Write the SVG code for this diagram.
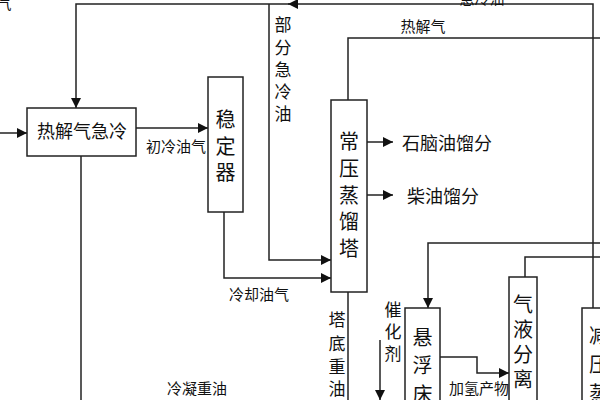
<svg xmlns="http://www.w3.org/2000/svg" width="600" height="400" viewBox="0 0 600 400">
<style>
.box{fill:#fff;stroke:#222;stroke-width:1.5}
.ln{fill:none;stroke:#222;stroke-width:1.5}
.t{font-family:"Noto Sans CJK SC","Noto Sans",sans-serif;fill:#111;text-anchor:middle;dominant-baseline:central}
.lab{font-size:15px}
.big{font-size:20px}
.mid{font-size:18px}
.vt{font-size:17px}
</style>
<defs>
<marker id="ah" viewBox="0 0 10 10" refX="10" refY="5" markerWidth="10" markerHeight="10" markerUnits="userSpaceOnUse" orient="auto">
<path d="M0,0 L10,5 L0,10 z" fill="#111"/>
</marker>
</defs>
<rect width="600" height="400" fill="#fff"/>
<g id="connectors">
<path class="ln" d="M0,133 H27" marker-end="url(#ah)"/>
<path class="ln" d="M593,308 V4 H288" marker-end="url(#ah)"/>
<path class="ln" d="M290,4 H76 V108" marker-end="url(#ah)"/>
<path class="ln" d="M136,128 H208" marker-end="url(#ah)"/>
<path class="ln" d="M224,212 V278 H331" marker-end="url(#ah)"/>
<path class="ln" d="M269,4 V260 H331" marker-end="url(#ah)"/>
<path class="ln" d="M348,100 V38 H600"/>
<path class="ln" d="M367,142 H393" marker-end="url(#ah)"/>
<path class="ln" d="M367,195 H393" marker-end="url(#ah)"/>
<path class="ln" d="M348,292 V400"/>
<path class="ln" d="M81,156 V400"/>
<path class="ln" d="M600,243 H428 V308" marker-end="url(#ah)"/>
<path class="ln" d="M600,257 H525 V277"/>
<path class="ln" d="M440,357 H477 V373 H509" marker-end="url(#ah)"/>
<path class="ln" d="M380,340 V400" marker-end="url(#ah)"/>
</g>
<g id="n_quench">
<rect class="box" x="27" y="108" width="109" height="48"/>
<text class="t mid" x="82" y="130">热解气急冷</text>
</g>
<g id="n_stab">
<rect class="box" x="208" y="77" width="35" height="135"/>
<text class="t big" x="225.5" y="118">稳</text>
<text class="t big" x="225.5" y="145">定</text>
<text class="t big" x="225.5" y="171">器</text>
</g>
<g id="n_atm">
<rect class="box" x="331" y="100" width="36" height="192"/>
<text class="t big" x="349" y="140">常</text>
<text class="t big" x="349" y="167">压</text>
<text class="t big" x="349" y="194">蒸</text>
<text class="t big" x="349" y="220">馏</text>
<text class="t big" x="349" y="247">塔</text>
</g>
<g id="n_slurry">
<rect class="box" x="405" y="308" width="35" height="100"/>
<text class="t big" x="422.5" y="336">悬</text>
<text class="t big" x="422.5" y="364">浮</text>
<text class="t big" x="422.5" y="393">床</text>
</g>
<g id="n_gl">
<rect class="box" x="509" y="277" width="28" height="130"/>
<text class="t big" x="523" y="303">气</text>
<text class="t big" x="523" y="328">液</text>
<text class="t big" x="523" y="353">分</text>
<text class="t big" x="523" y="378">离</text>
</g>
<g id="n_vac">
<rect class="box" x="582" y="308" width="40" height="100"/>
<text class="t big" x="599" y="334">减</text>
<text class="t big" x="599" y="363">压</text>
<text class="t big" x="599" y="392">蒸</text>
</g>
<g id="labels">
<text class="t lab" x="4" y="2">气</text>
<text class="t lab" x="482" y="-3">急冷油</text>
<text class="t lab" x="423" y="25">热解气</text>
<text class="t lab" x="176" y="145">初冷油气</text>
<text class="t lab" x="259" y="293">冷却油气</text>
<text class="t vt" x="283" y="23">部</text>
<text class="t vt" x="283" y="46">分</text>
<text class="t vt" x="283" y="68">急</text>
<text class="t vt" x="283" y="90">冷</text>
<text class="t vt" x="283" y="112">油</text>
<text class="t mid" x="447" y="142">石脑油馏分</text>
<text class="t mid" x="443" y="195">柴油馏分</text>
<text class="t vt" x="337" y="318">塔</text>
<text class="t vt" x="337" y="342">底</text>
<text class="t vt" x="337" y="365">重</text>
<text class="t vt" x="337" y="387">油</text>
<text class="t vt" x="393" y="308">催</text>
<text class="t vt" x="393" y="330">化</text>
<text class="t vt" x="393" y="352">剂</text>
<text class="t lab" x="479" y="387">加氢产物</text>
<text class="t lab" x="197" y="387">冷凝重油</text>
</g>
</svg>
